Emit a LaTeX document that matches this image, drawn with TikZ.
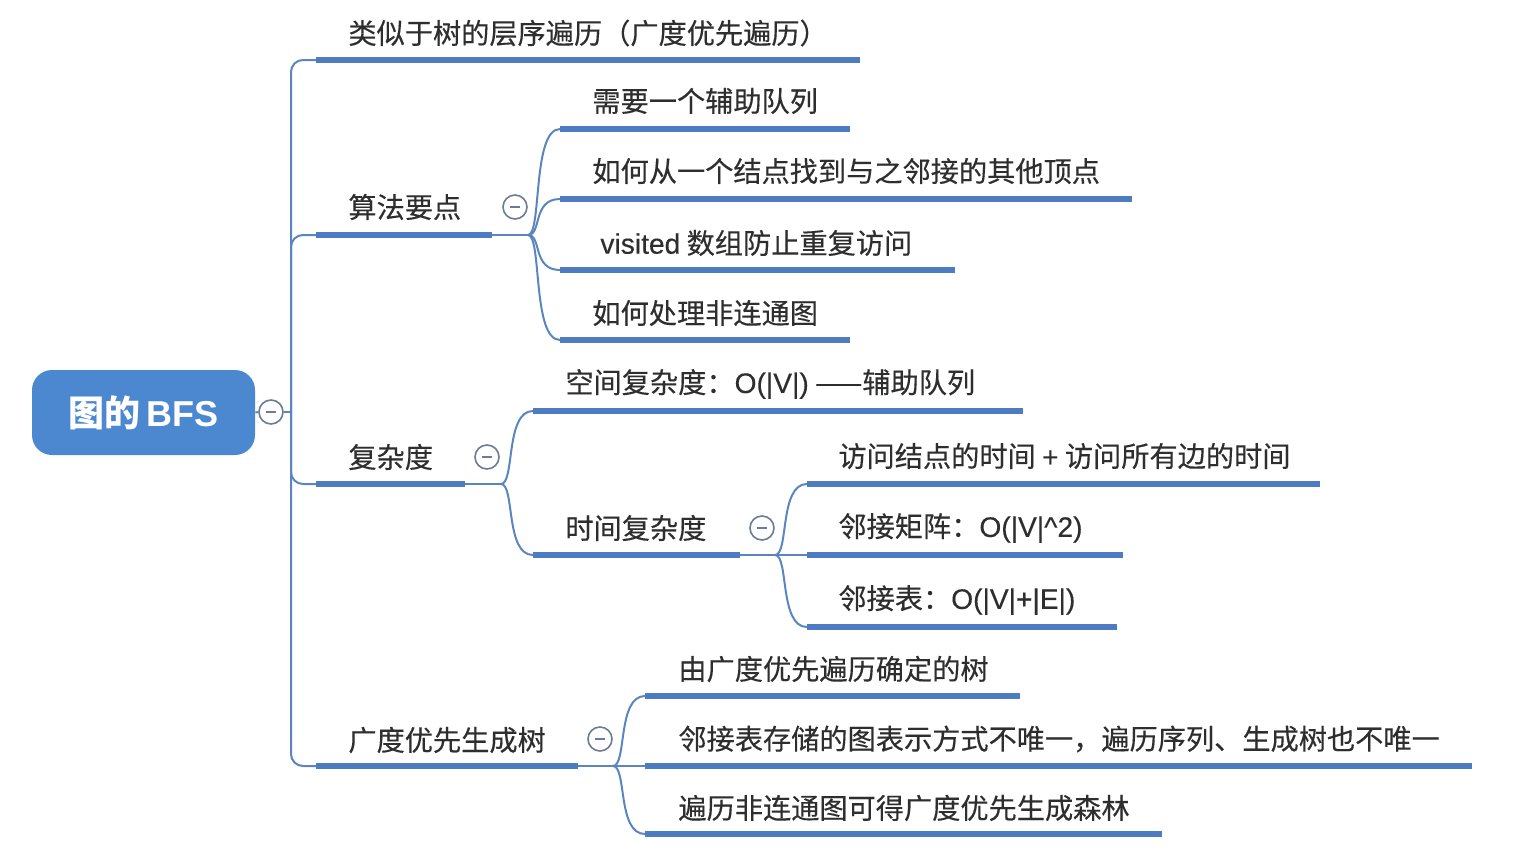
\documentclass[tikz,border=0pt]{standalone}
\usepackage{fontspec}
\setmainfont{Noto Sans CJK SC}
\newfontfamily\lat{Liberation Sans}
\usetikzlibrary{calc}
\definecolor{lineblue}{HTML}{5B85BF}
\definecolor{ulblue}{HTML}{4E7CC2}
\definecolor{rootblue}{HTML}{4C88D0}
\definecolor{txtgray}{HTML}{2E2E2E}
\definecolor{circgray}{HTML}{6B7C95}
\tikzset{
  txt/.style={anchor=west, inner sep=0pt, text=txtgray, font=\fontsize{14.1pt}{16pt}\selectfont\addfontfeatures{FakeBold=0.3}},
  uline/.style={draw=ulblue, line width=3pt},
  conn/.style={draw=lineblue, line width=1pt},
  collapse/.style={circle, draw=circgray, line width=0.8pt, minimum size=12pt, inner sep=0pt, fill=white,
    path picture={\draw[circgray, line width=0.8pt] ([xshift=-2.5pt]path picture bounding box.center) -- ([xshift=2.5pt]path picture bounding box.center);}},
  rootbox/.style={rounded corners=10pt, fill=rootblue, text=white, minimum width=111.5pt, minimum height=42.5pt,
    font=\fontsize{18pt}{20pt}\selectfont\bfseries}
}
\newcommand{\curvebr}[2]{\draw[conn] (#1) .. controls ($(#1)+(14,0)$) and ($(#1|-#2)+(4,0)$) .. (#2);}
\newcommand{\lt}[1]{{\lat\addfontfeatures{FakeBold=0.3}#1}}
\begin{document}
\begin{tikzpicture}[x=0.5pt,y=-0.5pt]
\useasboundingbox (0,0) rectangle (1531,852);
% root
\node[rootbox] (root) at (143.5,412.5) {图的\,{\lat\bfseries BFS}};
\node[collapse] (c0) at (271,412) {};
\draw[conn] (root.east) -- (c0.west);
\coordinate (sp) at (291,412);
\draw[conn] (c0.east) -- (sp);

% level 1 coordinates
\coordinate (a1s) at (316,60);  \coordinate (a1e) at (860,60);
\coordinate (a2s) at (316,235); \coordinate (a2e) at (492,235);
\coordinate (a3s) at (316,484); \coordinate (a3e) at (465,484);
\coordinate (a4s) at (316,766); \coordinate (a4e) at (578,766);

\draw[conn, rounded corners=6pt] (sp) |- (a1s);
\draw[conn, rounded corners=6pt] (sp) |- (a2s);
\draw[conn, rounded corners=6pt] (sp) |- (a3s);
\draw[conn, rounded corners=6pt] (sp) |- (a4s);

\node[txt] (a1) at (348,33) {类似于树的层序遍历（广度优先遍历）};
\node[txt] (a2) at (348,207) {算法要点};
\node[txt] (a3) at (348,457) {复杂度};
\node[txt] (a4) at (348,740) {广度优先生成树};
\draw[uline] (a1s) -- (a1e);
\draw[uline] (a2s) -- (a2e);
\draw[uline] (a3s) -- (a3e);
\draw[uline] (a4s) -- (a4e);

% 算法要点 children
\node[collapse] (c2) at (515,207) {};
\coordinate (j2) at (528,235);
\draw[conn] (a2e) -- (j2);
\coordinate (b1s) at (560,129); \coordinate (b1e) at (850,129);
\coordinate (b2s) at (560,199); \coordinate (b2e) at (1132,199);
\coordinate (b3s) at (560,270); \coordinate (b3e) at (955,270);
\coordinate (b4s) at (560,340); \coordinate (b4e) at (850,340);
\curvebr{j2}{b1s}
\curvebr{j2}{b2s}
\curvebr{j2}{b3s}
\curvebr{j2}{b4s}
\node[txt] (b1) at (592,101) {需要一个辅助队列};
\node[txt] (b2) at (592,171) {如何从一个结点找到与之邻接的其他顶点};
\node[txt] (b3) at (600,243) {\lt{visited} 数组防止重复访问};
\node[txt] (b4) at (592,313) {如何处理非连通图};
\draw[uline] (b1s) -- (b1e);
\draw[uline] (b2s) -- (b2e);
\draw[uline] (b3s) -- (b3e);
\draw[uline] (b4s) -- (b4e);

% 复杂度 children
\node[collapse] (c3) at (487,457) {};
\coordinate (j3) at (501,484);
\draw[conn] (a3e) -- (j3);
\coordinate (d1s) at (533,411); \coordinate (d1e) at (1023,411);
\coordinate (d2s) at (533,555); \coordinate (d2e) at (740,555);
\curvebr{j3}{d1s}
\curvebr{j3}{d2s}
\node[txt] (d1) at (565,384) {空间复杂度：\lt{O(|V|)} ——辅助队列};
\node[txt] (d2) at (565,528) {时间复杂度};
\draw[uline] (d1s) -- (d1e);
\draw[uline] (d2s) -- (d2e);

% 时间复杂度 children
\node[collapse] (c4) at (762,528) {};
\coordinate (j4) at (775,555);
\draw[conn] (d2e) -- (j4);
\coordinate (e1s) at (807,484); \coordinate (e1e) at (1320,484);
\coordinate (e2s) at (807,555); \coordinate (e2e) at (1123,555);
\coordinate (e3s) at (807,627); \coordinate (e3e) at (1117,627);
\curvebr{j4}{e1s}
\draw[conn] (j4) -- (e2s);
\curvebr{j4}{e3s}
\node[txt] (e1) at (838,456) {访问结点的时间 \lt{+} 访问所有边的时间};
\node[txt] (e2) at (838,528) {邻接矩阵：\lt{O(|V|\^{}2)}};
\node[txt] (e3) at (838,600) {邻接表：\lt{O(|V|+|E|)}};
\draw[uline] (e1s) -- (e1e);
\draw[uline] (e2s) -- (e2e);
\draw[uline] (e3s) -- (e3e);

% 广度优先生成树 children
\node[collapse] (c5) at (600,739) {};
\coordinate (j5) at (613,766);
\draw[conn] (a4e) -- (j5);
\coordinate (f1s) at (645,696); \coordinate (f1e) at (1020,696);
\coordinate (f2s) at (645,766); \coordinate (f2e) at (1472,766);
\coordinate (f3s) at (645,834); \coordinate (f3e) at (1162,834);
\curvebr{j5}{f1s}
\draw[conn] (j5) -- (f2s);
\curvebr{j5}{f3s}
\node[txt] (f1) at (678,669) {由广度优先遍历确定的树};
\node[txt] (f2) at (678,739) {邻接表存储的图表示方式不唯一，遍历序列、生成树也不唯一};
\node[txt] (f3) at (678,808) {遍历非连通图可得广度优先生成森林};
\draw[uline] (f1s) -- (f1e);
\draw[uline] (f2s) -- (f2e);
\draw[uline] (f3s) -- (f3e);
\end{tikzpicture}
\end{document}
